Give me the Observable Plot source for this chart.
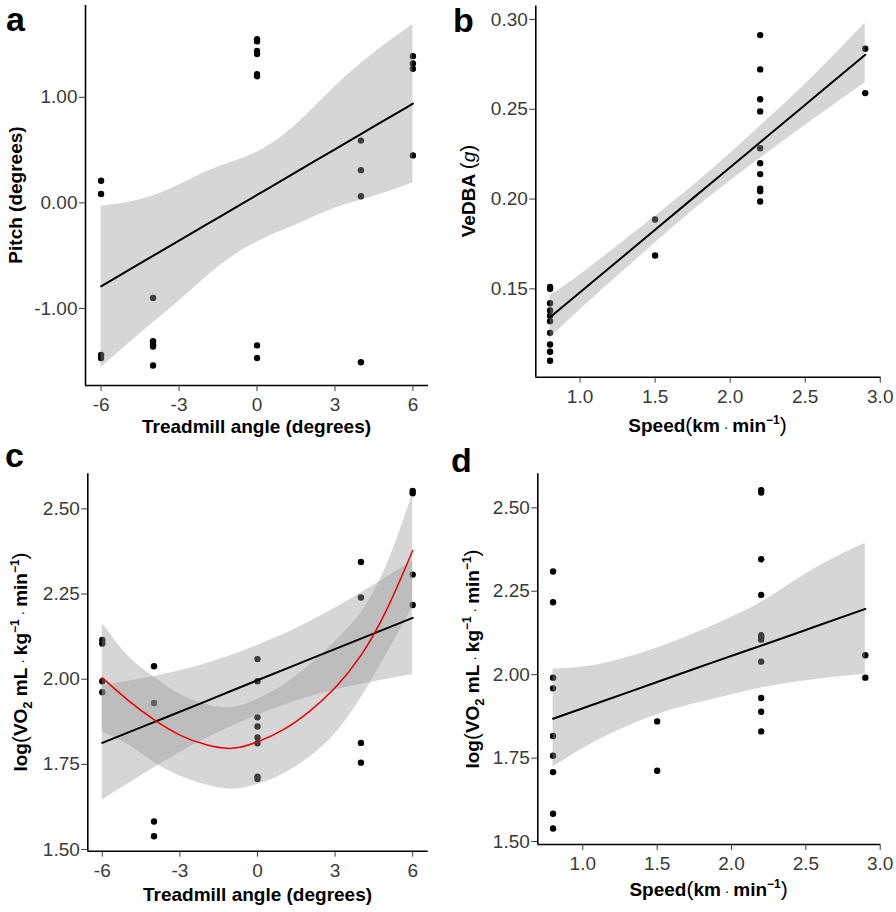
<!DOCTYPE html>
<html><head><meta charset="utf-8">
<script src="https://cdn.jsdelivr.net/npm/d3@7"></script>
<script src="https://cdn.jsdelivr.net/npm/@observablehq/plot@0.6"></script>
<style>
body{margin:0;background:#fff;}
#root{position:relative;width:896px;height:912px;overflow:hidden;font-family:"Liberation Sans",Arial,sans-serif;background:#fff;}
.panel{position:absolute;}
#letters{position:absolute;left:0;top:0;pointer-events:none;}
</style></head><body><div id="root"></div>
<script>
// ---------- Panel a : pitch vs treadmill angle ----------
const angleA = [-6,-6,-6,-6, -4,-4,-4,-4,-4, 0,0,0,0,0,0,0,0, 4,4,4,4, 6,6,6,6];
const pitchA = [0.21,0.085,-1.44,-1.47, -0.90,-1.31,-1.34,-1.36,-1.54, 1.55,1.53,1.44,1.41,1.22,1.20,-1.35,-1.47, 0.59,0.31,0.063,-1.51, 1.39,1.32,1.27,0.45];
const fitAngleA = [-6,-4.5,-3,-1.5,0,1.5,3,4.5,6];
const fitPitchA = [-0.79,-0.574,-0.357,-0.141,0.075,0.291,0.508,0.724,0.94];
const loPitchA  = [-1.56,-1.24,-0.93,-0.61,-0.37,-0.21,-0.05,0.06,0.19];
const hiPitchA  = [-0.03,0.03,0.17,0.34,0.48,0.74,1.10,1.42,1.69];
const xTicksAngle = [-6,-3,0,3,6];
const yTicksPitch = [-1,0,1];

// ---------- Panel b : VeDBA vs speed ----------
const speedB = [0.8,0.8,0.8,0.8,0.8,0.8,0.8,0.8,0.8,0.8, 1.5,1.5, 2.2,2.2,2.2,2.2,2.2,2.2,2.2,2.2,2.2,2.2, 2.9,2.9];
const vedbaB = [0.151,0.150,0.142,0.138,0.135,0.132,0.1255,0.119,0.115,0.110, 0.1886,0.1686, 0.2913,0.2722,0.2556,0.2488,0.2283,0.220,0.2139,0.2057,0.2044,0.1986, 0.2837,0.259];
const fitSpeedB = [0.8,1.0,1.5,1.85,2.2,2.55,2.9];
const fitVedbaB = [0.1342,0.1481,0.1829,0.2073,0.2316,0.2560,0.2803];
const loVedbaB  = [0.1222,0.1384,0.1755,0.2003,0.2226,0.2440,0.2647];
const hiVedbaB  = [0.1463,0.1578,0.1903,0.2143,0.2406,0.2680,0.2980];
const xTicksSpeed = [1.0,1.5,2.0,2.5,3.0];
const yTicksVedba = [0.15,0.20,0.25,0.30];

// ---------- Panel c : log VO2 vs treadmill angle ----------
const angleC = [-6,-6,-6,-6, -4,-4,-4,-4, 0,0,0,0,0,0,0,0, 4,4,4,4, 6,6,6,6];
const vo2C = [2.115,2.105,1.994,1.962, 2.038,1.930,1.582,1.539, 2.059,1.994,1.888,1.861,1.829,1.812,1.714,1.707, 2.344,2.240,1.813,1.755, 2.553,2.546,2.307,2.218];
const linAngleC = [-6,-4,-2,0,2,4,6];
const linVo2C = [1.813,1.874,1.935,1.997,2.058,2.119,2.180];
const linLoC  = [1.645,1.740,1.825,1.894,1.948,1.985,2.014];
const linHiC  = [1.981,2.008,2.045,2.099,2.168,2.253,2.348];
const quadAngleC = [-6,-5,-4,-3,-2,-1,0,1,2,3,4,5,6];
const quadVo2C = [2.004,1.938,1.881,1.836,1.808,1.797,1.816,1.852,1.905,1.975,2.070,2.205,2.378];
const quadLoC  = [1.844,1.808,1.756,1.716,1.690,1.677,1.691,1.722,1.770,1.840,1.945,2.075,2.212];
const quadHiC  = [2.164,2.068,2.006,1.956,1.926,1.917,1.941,1.982,2.040,2.110,2.195,2.335,2.544];
const yTicksVo2 = [1.50,1.75,2.00,2.25,2.50];

// ---------- Panel d : log VO2 vs speed ----------
const speedD = [0.8,0.8,0.8,0.8,0.8,0.8,0.8,0.8,0.8, 1.5,1.5, 2.2,2.2,2.2,2.2,2.2,2.2,2.2,2.2,2.2,2.2,2.2, 2.9,2.9];
const vo2D = [2.309,2.217,1.991,1.959,1.816,1.757,1.708,1.583,1.539, 1.860,1.712, 2.553,2.546,2.346,2.239,2.118,2.112,2.105,2.039,1.930,1.889,1.830, 2.058,1.991];
const fitSpeedD = [0.8,1.1,1.5,1.85,2.2,2.55,2.9];
const fitVo2D = [1.868,1.915,1.978,2.033,2.087,2.142,2.197];
const loVo2D  = [1.723,1.803,1.880,1.923,1.960,1.985,2.001];
const hiVo2D  = [2.017,2.030,2.080,2.142,2.217,2.315,2.394];

const panelLetters = ["a", "b", "c", "d"];

// ---------- helpers ----------
const zip = (xs, ys) => xs.map((x, i) => ({x, y: ys[i]}));
const band = (xs, fit, lo, hi) => xs.map((x, i) => ({x, fit: fit[i], lo: lo[i], hi: hi[i]}));

function rich(g, parts) {
  const t = g.append("text").attr("fill", "black");
  let cur = 0;
  for (const p of parts) {
    const sh = p.sh || 0;
    const ts = t.append("tspan").text(p.t)
      .attr("font-size", (p.s || 19) + "px")
      .attr("font-weight", p.b ? "bold" : "normal")
      .attr("font-style", p.i ? "italic" : "normal");
    if (sh !== cur) { ts.attr("dy", sh - cur); cur = sh; }
  }
  return t;
}

function panel(o) {
  const marks = [
    Plot.dot(o.pts, {x: "x", y: "y", r: 3.2, fill: "black"}),
    ...o.bands.map(b => Plot.areaY(b.data, {x: "x", y1: "lo", y2: "hi", fill: "#999999", fillOpacity: 0.4, curve: "natural"})),
    ...o.bands.map(b => Plot.line(b.data, {x: "x", y: "fit", stroke: b.color, strokeWidth: b.sw, curve: "natural"})),
    Plot.ruleY([o.ydom[0]], {stroke: "black", strokeWidth: 1.6}),
    Plot.ruleX([o.xdom[0]], {stroke: "black", strokeWidth: 1.6}),
    Plot.axisX({ticks: o.xticks, tickFormat: o.xfmt, tickSize: 6, tickPadding: 6, fontSize: 19, label: null}),
    Plot.axisY({ticks: o.yticks, tickFormat: o.yfmt, tickSize: 6, tickPadding: 2, fontSize: 19, label: null})
  ];
  const chart = Plot.plot({
    width: o.w, height: o.h,
    marginLeft: o.ml, marginRight: o.mr, marginTop: o.mt, marginBottom: o.mb,
    x: {domain: o.xdom}, y: {domain: o.ydom},
    style: {fontFamily: "Liberation Sans, Arial, sans-serif", fontSize: "19px", color: "#3a3a3a", background: "white", overflow: "visible"},
    marks
  });
  const div = document.createElement("div");
  div.className = "panel";
  div.style.left = o.left + "px";
  div.style.top = o.top + "px";
  div.appendChild(chart);
  document.getElementById("root").appendChild(div);
  const svg = d3.select(chart);
  svg.selectAll("text").attr("fill", "#3a3a3a");
  rich(svg.append("g").attr("transform", `translate(${o.xt[0]},${o.xt[1]})`), o.xlab).attr("text-anchor", "middle");
  rich(svg.append("g").attr("transform", `translate(${o.yt[0]},${o.yt[1]}) rotate(-90)`), o.ylab).attr("text-anchor", "middle");
}

const f0 = d => String(d);
const f1 = d => d.toFixed(1);
const f2 = d => d.toFixed(2);

const vo2Label = [
  {t: "log", b: 1}, {t: "(", s: 21}, {t: "VO", b: 1}, {t: "2", s: 13, b: 1, sh: 5},
  {t: " mL", b: 1}, {t: " · ", s: 14}, {t: "kg", b: 1}, {t: "−1", s: 12, b: 1, sh: -8},
  {t: " · ", s: 14}, {t: "min", b: 1}, {t: "−1", s: 12, b: 1, sh: -8}, {t: ")", s: 21}
];
const speedLabel = [
  {t: "Speed", b: 1}, {t: "(", s: 21}, {t: "km", b: 1}, {t: " · ", s: 14}, {t: "min", b: 1},
  {t: "−1", s: 12, b: 1, sh: -8}, {t: ")", s: 21}
];

panel({
  left: 0, top: 0, w: 448, h: 450, ml: 85, mr: 20, mt: 5, mb: 65,
  xdom: [-6.6, 6.6], ydom: [-1.73, 1.87], xticks: xTicksAngle, yticks: yTicksPitch, xfmt: f0, yfmt: f2,
  pts: zip(angleA, pitchA),
  bands: [{data: band(fitAngleA, fitPitchA, loPitchA, hiPitchA), color: "black", sw: 2}],
  xlab: [{t: "Treadmill angle (degrees)", b: 1}], xt: [256.5, 433],
  ylab: [{t: "Pitch (degrees)", b: 1}], yt: [22, 195]
});

panel({
  left: 448, top: 0, w: 448, h: 450, ml: 87.3, mr: 15.5, mt: 5.5, mb: 73.3,
  xdom: [0.705, 3.005], ydom: [0.1008, 0.3075], xticks: xTicksSpeed, yticks: yTicksVedba, xfmt: f1, yfmt: f2,
  pts: zip(speedB, vedbaB),
  bands: [{data: band(fitSpeedB, fitVedbaB, loVedbaB, hiVedbaB), color: "black", sw: 2}],
  xlab: speedLabel, xt: [259.5, 432],
  ylab: [{t: "VeDBA ", b: 1}, {t: "(", s: 21}, {t: "g", i: 1}, {t: ")", s: 21}], yt: [27, 191]
});

panel({
  left: 0, top: 450, w: 448, h: 462, ml: 87.3, mr: 20.3, mt: 23.3, mb: 61.3,
  xdom: [-6.56, 6.6], ydom: [1.495, 2.603], xticks: xTicksAngle, yticks: yTicksVo2, xfmt: f0, yfmt: f2,
  pts: zip(angleC, vo2C),
  bands: [
    {data: band(linAngleC, linVo2C, linLoC, linHiC), color: "black", sw: 2},
    {data: band(quadAngleC, quadVo2C, quadLoC, quadHiC), color: "#ee0000", sw: 1.5}
  ],
  xlab: [{t: "Treadmill angle (degrees)", b: 1}], xt: [257.5, 451],
  ylab: vo2Label, yt: [27, 212]
});

panel({
  left: 448, top: 450, w: 448, h: 462, ml: 89.3, mr: 16, mt: 23.3, mb: 68,
  xdom: [0.6974, 3.002], ydom: [1.491, 2.602], xticks: xTicksSpeed, yticks: yTicksVo2, xfmt: f1, yfmt: f2,
  pts: zip(speedD, vo2D),
  bands: [{data: band(fitSpeedD, fitVo2D, loVo2D, hiVo2D), color: "black", sw: 2}],
  xlab: speedLabel, xt: [260.6, 446],
  ylab: vo2Label, yt: [31, 209]
});

// panel letters in an overlay so nothing clips them
const letterPos = [[6, 31], [453, 32], [5, 467], [451, 472]];
const ov = d3.select("#root").append("svg").attr("id", "letters").attr("width", 896).attr("height", 912);
ov.selectAll("text").data(panelLetters).join("text")
  .attr("x", (d, i) => letterPos[i][0]).attr("y", (d, i) => letterPos[i][1])
  .attr("font-family", "Liberation Sans, Arial, sans-serif")
  .attr("font-size", "34px").attr("font-weight", "bold").attr("fill", "black")
  .text(d => d);
</script>
</body></html>
